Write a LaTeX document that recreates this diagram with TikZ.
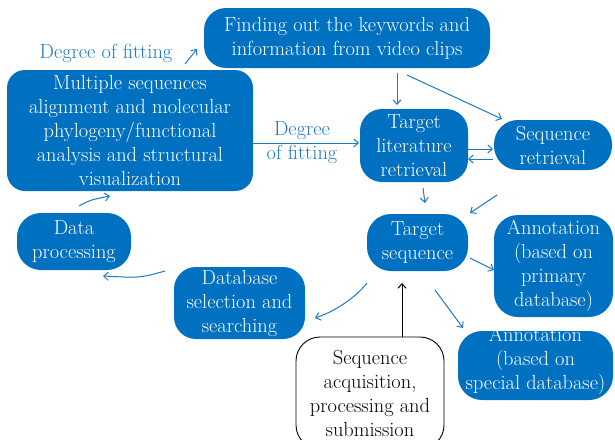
\documentclass[tikz,border=0pt]{standalone}
\usetikzlibrary{arrows.meta}
\definecolor{boxblue}{RGB}{0,112,192}
\definecolor{flowblue}{RGB}{30,120,195}
\begin{document}
\begin{tikzpicture}[x=1pt,y=-1pt,
  txt/.style={font=\rmfamily\fontsize{20.4}{24}\selectfont, align=center, inner sep=0pt},
  stage/.style={txt, fill=boxblue, text=white, rounded corners=22pt},
  plain/.style={txt, fill=white, draw=black, line width=0.9pt, text=black, rounded corners=24pt},
  lbl/.style={txt, text=flowblue},
  flow/.style={draw=flowblue, line width=1pt, -{Straight Barb[length=4.5pt,width=8pt]}},
  blackflow/.style={draw=black, line width=1pt, -{Straight Barb[length=4.5pt,width=8pt]}}
]
\useasboundingbox (0,0) rectangle (615,439);
\clip (0,0) rectangle (615,439);

% boxes
\node[stage, minimum width=286pt, minimum height=60pt] (find) at (347,38)
  {Finding out the keywords and\\information from video clips};
\node[stage, rounded corners=18pt, minimum width=246pt, minimum height=121pt] (msa) at (130,130.5)
  {Multiple sequences\\alignment and molecular\\phylogeny/functional\\analysis and structural\\visualization};
\node[stage, minimum width=108pt, minimum height=73pt] (lit) at (414,145.5)
  {Target\\literature\\retrieval};
\node[stage, rounded corners=24pt, minimum width=118pt, minimum height=50pt] (seqret) at (553,145)
  {Sequence\\retrieval};
\node[stage, rounded corners=24pt, minimum width=101pt, minimum height=57pt] (tseq) at (417.5,242.5)
  {Target\\sequence};
\node[stage, rounded corners=24pt, minimum width=119pt, minimum height=102pt] (annp) at (553.5,266)
  {Annotation\\(based on\\primary\\database)};
\node[stage, rounded corners=24pt, minimum width=155pt, minimum height=69pt] (anns) at (535.5,365.5) {};
\node[txt, text=white] (annstext) at (535.5,361)
  {Annotation\\(based on\\special database)};
\node[plain, minimum width=148pt, minimum height=112pt] (acq) at (370,393)
  {Sequence\\acquisition,\\processing and\\submission};
\node[stage, rounded corners=24pt, minimum width=114pt, minimum height=57pt] (dproc) at (74,241.5)
  {Data\\processing};
\node[stage, rounded corners=22pt, minimum width=131pt, minimum height=72pt] (dbsel) at (239.5,303)
  {Database\\selection and\\searching};

% labels
\node[lbl] (fit1) at (106,53) {Degree of fitting};
\node[lbl] (fit2) at (302,143) {Degree\\of fitting};

% arrow end points
\coordinate (a1s) at (185,64);   \coordinate (a1e) at (197,49);
\coordinate (a2s) at (253,143);  \coordinate (a2e) at (359,143);
\coordinate (a3s) at (397,73);   \coordinate (a3e) at (397,105);
\coordinate (a4s) at (407,75);   \coordinate (a4e) at (502,119);
\coordinate (a5s) at (468,149);  \coordinate (a5e) at (493,149);
\coordinate (a6s) at (493,159);  \coordinate (a6e) at (468,159);
\coordinate (a7s) at (423,188);  \coordinate (a7e) at (425,203);
\coordinate (a8s) at (497,195);  \coordinate (a8e) at (470,213);
\coordinate (a9s) at (470,258);  \coordinate (a9e) at (494,270);
\coordinate (a10s) at (435,290); \coordinate (a10e) at (463,328);
\coordinate (a11s) at (367,283); \coordinate (a11e) at (315,318);
\coordinate (a12s) at (402,337); \coordinate (a12e) at (402,283);
\coordinate (a13s) at (165,271); \coordinate (a13e) at (103,276);
\coordinate (a14s) at (79,206);  \coordinate (a14e) at (110,196);

% connectors
\draw[flow] (a1s) -- (a1e);
\draw[flow] (a2s) -- (a2e);
\draw[flow] (a3s) -- (a3e);
\draw[flow] (a4s) -- (a4e);
\draw[flow] (a5s) -- (a5e);
\draw[flow] (a6s) -- (a6e);
\draw[flow] (a7s) -- (a7e);
\draw[flow] (a8s) -- (a8e);
\draw[flow] (a9s) -- (a9e);
\draw[flow] (a10s) -- (a10e);
\draw[flow] (a11s) .. controls (356,297) and (336,311) .. (a11e);
\draw[blackflow] (a12s) -- (a12e);
\draw[flow] (a13s) .. controls (140,278) .. (a13e);
\draw[flow] (a14s) .. controls (90,200) .. (a14e);
\end{tikzpicture}
\end{document}
